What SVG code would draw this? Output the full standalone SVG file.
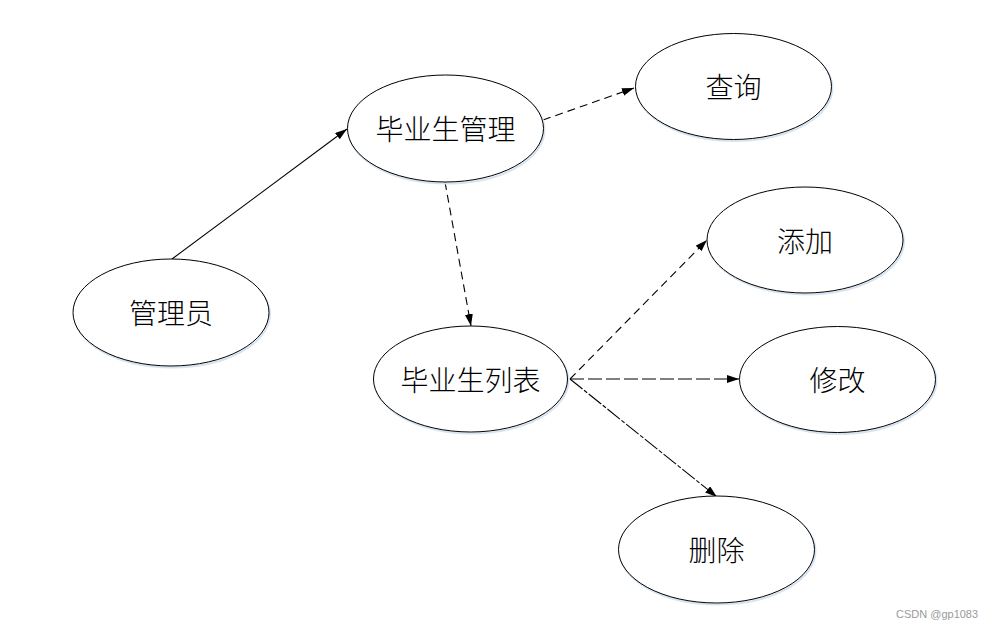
<svg xmlns="http://www.w3.org/2000/svg" width="995" height="631" viewBox="0 0 995 631">
  <style>
    .shadow { fill: none; stroke: #d6e4f2; stroke-width: 2; }
    .node { fill: #ffffff; stroke: #000000; stroke-width: 1; }
    .label { font-family: "Noto Sans CJK SC", "Noto Sans", sans-serif; font-size: 28px; font-weight: 300; fill: #000000; text-anchor: middle; dominant-baseline: central; }
    .edge { fill: none; stroke: #000000; stroke-width: 1.1; }
    .dash { stroke-dasharray: 8 5; }
    .longdash { stroke-dasharray: 14 4; }
    .dashdot { stroke-dasharray: 16 2 4 2; }
    .wm { font-family: "Liberation Sans", Arial, sans-serif; font-size: 11px; fill: #9a9a9a; }
  </style>
  <defs>
    <marker id="arrow" markerUnits="userSpaceOnUse" markerWidth="13" markerHeight="9" refX="12" refY="4" orient="auto">
      <path d="M0,0 L12,4 L0,8 z" fill="#000000"/>
    </marker>
  </defs>
  <rect width="995" height="631" fill="#ffffff"/>

  <g id="connectors">
    <line class="edge" x1="172" y1="259" x2="347" y2="129" marker-end="url(#arrow)"/>
    <line class="edge dash" x1="543" y1="120" x2="634" y2="88" marker-end="url(#arrow)"/>
    <line class="edge dash" x1="445" y1="182" x2="471" y2="326" marker-end="url(#arrow)"/>
    <line class="edge dash" x1="570" y1="379" x2="707" y2="240" marker-end="url(#arrow)"/>
    <line class="edge longdash" x1="570" y1="379" x2="739" y2="379" marker-end="url(#arrow)"/>
    <line class="edge dashdot" x1="570" y1="379" x2="717" y2="497" marker-end="url(#arrow)"/>
  </g>

  <g id="node-admin">
    <ellipse class="shadow" cx="172" cy="314" rx="98" ry="53.5"/>
    <ellipse class="node" cx="171" cy="312.5" rx="98" ry="53.5"/>
    <text class="label" x="171" y="312">管理员</text>
  </g>
  <g id="node-grad-mgmt">
    <ellipse class="shadow" cx="446.5" cy="130" rx="98" ry="53.5"/>
    <ellipse class="node" cx="445.5" cy="128.5" rx="98" ry="53.5"/>
    <text class="label" x="445.5" y="128">毕业生管理</text>
  </g>
  <g id="node-query">
    <ellipse class="shadow" cx="734.5" cy="88" rx="98" ry="53"/>
    <ellipse class="node" cx="733.5" cy="86.5" rx="98" ry="53"/>
    <text class="label" x="733.5" y="86">查询</text>
  </g>
  <g id="node-grad-list">
    <ellipse class="shadow" cx="471.5" cy="380.5" rx="97" ry="53"/>
    <ellipse class="node" cx="470.5" cy="379" rx="97" ry="53"/>
    <text class="label" x="470.5" y="378.5">毕业生列表</text>
  </g>
  <g id="node-add">
    <ellipse class="shadow" cx="806" cy="241.5" rx="98" ry="53"/>
    <ellipse class="node" cx="805" cy="240" rx="98" ry="53"/>
    <text class="label" x="805" y="239.5">添加</text>
  </g>
  <g id="node-edit">
    <ellipse class="shadow" cx="838.5" cy="381" rx="98" ry="53"/>
    <ellipse class="node" cx="837.5" cy="379.5" rx="98" ry="53"/>
    <text class="label" x="837.5" y="379">修改</text>
  </g>
  <g id="node-delete">
    <ellipse class="shadow" cx="717.5" cy="551" rx="98" ry="53.5"/>
    <ellipse class="node" cx="716.5" cy="549.5" rx="98" ry="53.5"/>
    <text class="label" x="716.5" y="549">删除</text>
  </g>

  <text class="wm" x="896" y="618">CSDN @gp1083</text>
</svg>
